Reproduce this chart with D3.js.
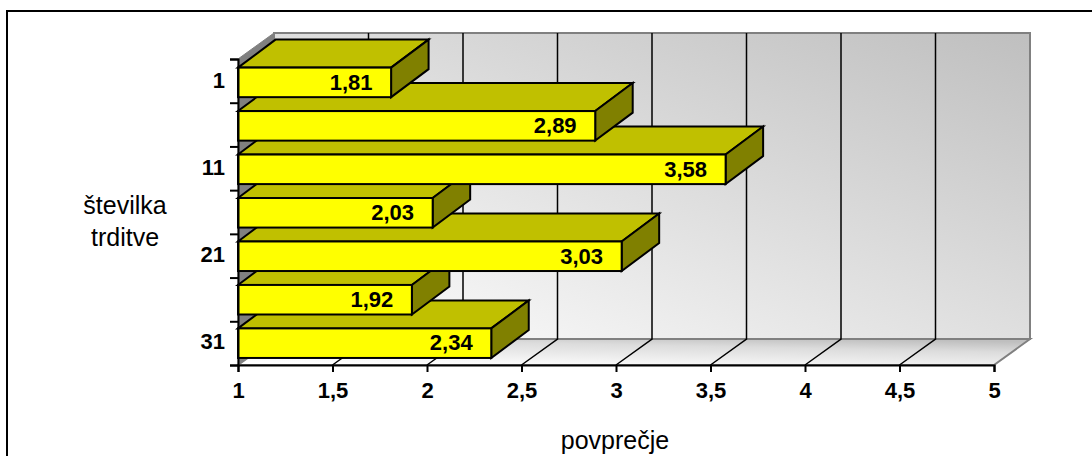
<!DOCTYPE html>
<html>
<head>
<meta charset="utf-8">
<script src="https://cdnjs.cloudflare.com/ajax/libs/d3/7.8.5/d3.min.js"></script>
<style>
html,body{margin:0;padding:0;background:#fff}
svg{display:block}
text{font-family:"Liberation Sans",Arial,sans-serif;fill:#000}
</style>
</head>
<body>
<script>
const statements = ["1","6","11","16","21","26","31"];
const averages = [1.81,2.89,3.58,2.03,3.03,1.92,2.34];
const labelledStatements = ["1","11","21","31"];
const valueTicks = [1,1.5,2,2.5,3,3.5,4,4.5,5];
const xTitle = "povprečje";
const yTitleLines = ["številka","trditve"];

const width = 1092, height = 456;
const plot = {left:238, right:994, top:59, bottom:365};
const wallDepth = {dx:36, dy:26};
const barDepth = {dx:37.5, dy:28};
const decimal = d => String(d).replace(".", ",");

const svg = d3.select("body").append("svg").attr("width",width).attr("height",height);

const x = d3.scaleLinear().domain([1,5]).range([plot.left,plot.right]);
const y = d3.scaleBand().domain(statements).range([plot.top,plot.bottom]).paddingInner(0.32).paddingOuter(0.18).align(0.55);

const defs = svg.append("defs");
const shade = (id, ends, stops) => defs.append("linearGradient").attr("id",id)
  .attr("x1",ends[0]).attr("y1",0).attr("x2",ends[1]).attr("y2",1)
  .selectAll("stop").data(stops).join("stop")
  .attr("offset",d=>d[0]).attr("stop-color",d=>d[1]);
shade("wallShade",[1,0],[[0,"#bfbfbf"],[1,"#ffffff"]]);
shade("floorShade",[0.8,0.2],[[0,"#bfbfbf"],[0.3,"#dcdcdc"],[1,"#ffffff"]]);

// outer chart frame, open towards the right and the bottom of the page
svg.append("path").attr("d",`M7,${height}V11H${width}`).attr("fill","none").attr("stroke","#000").attr("stroke-width",2);

const path = pts => d3.line()(pts)+"Z";
const wallLeft = plot.left+wallDepth.dx, wallRight = plot.right+wallDepth.dx;
const wallTop = plot.top-wallDepth.dy, wallBottom = plot.bottom-wallDepth.dy;

// back wall, side wall and floor of the 3D box
svg.append("rect").attr("x",wallLeft).attr("y",wallTop).attr("width",wallRight-wallLeft).attr("height",wallBottom-wallTop)
  .attr("fill","url(#wallShade)").attr("stroke","#808080").attr("stroke-width",2);
svg.append("path").attr("d",path([[plot.left,plot.top],[wallLeft,wallTop],[wallLeft,wallBottom],[plot.left,plot.bottom]]))
  .attr("fill","#808080").attr("stroke","#808080");
svg.append("path").attr("d",path([[plot.left,plot.bottom],[wallLeft,wallBottom],[wallRight,wallBottom],[plot.right,plot.bottom]]))
  .attr("fill","url(#floorShade)").attr("stroke","#808080").attr("stroke-width",2);

// gridlines run along the floor and up the back wall
const grid = svg.append("g").attr("fill","none").attr("stroke","#000").attr("stroke-width",1.5);
grid.selectAll("path").data(valueTicks.slice(1,-1)).join("path")
  .attr("d",d=>`M${x(d)},${plot.bottom}L${x(d)+wallDepth.dx},${wallBottom}V${wallTop}`);

// bars stack from the bottom upward so each one overlaps the top face of the next
const bars = svg.append("g").selectAll("g")
  .data(statements.map((s,i)=>({s,v:averages[i]})).reverse()).join("g")
  .attr("stroke","#000").attr("stroke-width",2).attr("stroke-linejoin","miter");
const x0 = x(1);
bars.append("path").attr("fill","#c0c000").attr("d",d=>{
  const t=y(d.s), r=x(d.v);
  return path([[x0,t],[x0+barDepth.dx,t-barDepth.dy],[r+barDepth.dx,t-barDepth.dy],[r,t]]);
});
bars.append("path").attr("fill","#808000").attr("d",d=>{
  const t=y(d.s), r=x(d.v), b=t+y.bandwidth();
  return path([[r,t],[r+barDepth.dx,t-barDepth.dy],[r+barDepth.dx,b-barDepth.dy],[r,b]]);
});
bars.append("rect").attr("fill","#ffff00")
  .attr("x",x0).attr("y",d=>y(d.s)).attr("width",d=>x(d.v)-x0).attr("height",y.bandwidth());

// value labels inside the bar ends
svg.append("g").selectAll("text").data(statements.map((s,i)=>({s,v:averages[i]}))).join("text")
  .attr("x",d=>x(d.v)-40).attr("y",d=>y(d.s)+y.bandwidth()/2).attr("dy","0.33em")
  .attr("text-anchor","middle").attr("font-weight","bold").attr("font-size",22)
  .text(d=>d.v.toFixed(2).replace(".",","));

// axes
const xAxis = svg.append("g").attr("transform",`translate(0,${plot.bottom})`)
  .call(d3.axisBottom(x).tickValues(valueTicks).tickFormat(decimal).tickSize(7).tickPadding(10));
const yTicks = d3.scaleOrdinal().domain(statements).range(statements.map(s=>y(s)+y.bandwidth()/2));
const yAxis = svg.append("g").attr("transform",`translate(${plot.left},0)`)
  .call(d3.axisLeft(d3.scalePoint().domain(d3.range(statements.length+1)).range([plot.top,plot.bottom]))
    .tickFormat("").tickSize(8));
[xAxis,yAxis].forEach(a=>{
  a.attr("font-family",null);
  a.select(".domain").attr("stroke","#000").attr("stroke-width",2);
  a.selectAll(".tick line").attr("stroke","#000").attr("stroke-width",2);
});
xAxis.selectAll(".tick text").attr("font-size",22).attr("font-weight","bold").attr("fill","#000");

svg.append("g").selectAll("text").data(labelledStatements).join("text")
  .attr("x",225).attr("y",d=>yTicks(d)).attr("dy","0.27em")
  .attr("text-anchor","end").attr("font-weight","bold").attr("font-size",22).text(d=>d);

// axis titles
svg.append("text").attr("x",615).attr("y",449).attr("text-anchor","middle").attr("font-size",25).text(xTitle);
svg.append("g").selectAll("text").data(yTitleLines).join("text")
  .attr("x",125).attr("y",(d,i)=>214+i*32).attr("text-anchor","middle").attr("font-size",25).text(d=>d);
</script>
</body>
</html>
